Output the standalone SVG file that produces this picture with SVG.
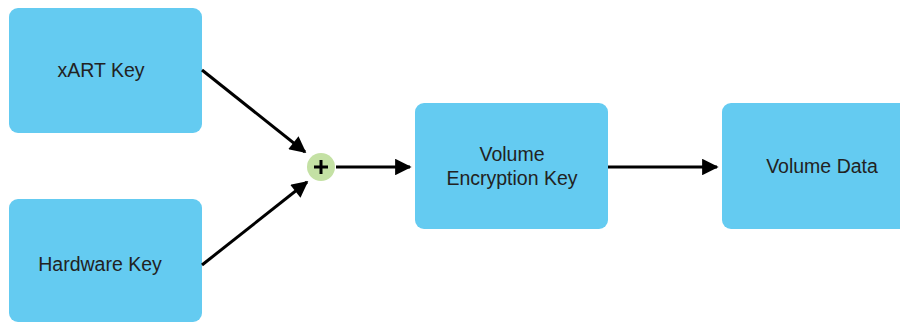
<svg xmlns="http://www.w3.org/2000/svg" width="900" height="322" viewBox="0 0 900 322">
<defs>
<marker id="ah" viewBox="0 0 10 10" refX="9" refY="5" markerWidth="6" markerHeight="5.5" orient="auto" markerUnits="strokeWidth">
<path d="M0,0 L10,5 L0,10 Z" fill="#000"/>
</marker>
</defs>
<style>
.box{fill:#64cbf1;}
.lbl{font-family:"Liberation Sans",Arial,sans-serif;font-size:19.5px;fill:#222;text-anchor:middle;}
.conn{stroke:#000;stroke-width:3;fill:none;marker-end:url(#ah);}
</style>
<rect width="900" height="322" fill="#fff"/>
<g id="xart">
<rect class="box" x="9" y="8" width="193" height="125" rx="9"/>
<text class="lbl" x="101" y="77">xART Key</text>
</g>
<g id="hardware">
<rect class="box" x="9" y="199" width="193" height="123" rx="9"/>
<text class="lbl" x="100" y="271">Hardware Key</text>
</g>
<g id="plus">
<circle cx="321" cy="167" r="14" fill="#c4e1a4"/>
<path d="M314,167 H328 M321,160 V174" stroke="#000" stroke-width="3"/>
</g>
<g id="vek">
<rect class="box" x="415" y="103" width="193" height="126" rx="9"/>
<text class="lbl" x="512" y="161">Volume</text>
<text class="lbl" x="512" y="185">Encryption Key</text>
</g>
<g id="vdata">
<rect class="box" x="722" y="103" width="190" height="126" rx="9"/>
<text class="lbl" x="822" y="173">Volume Data</text>
</g>
<g id="connectors">
<line class="conn" x1="202" y1="70" x2="305" y2="152"/>
<line class="conn" x1="202" y1="265" x2="307" y2="182"/>
<line class="conn" x1="336" y1="167" x2="410" y2="167"/>
<line class="conn" x1="608" y1="167" x2="717" y2="167"/>
</g>
</svg>
